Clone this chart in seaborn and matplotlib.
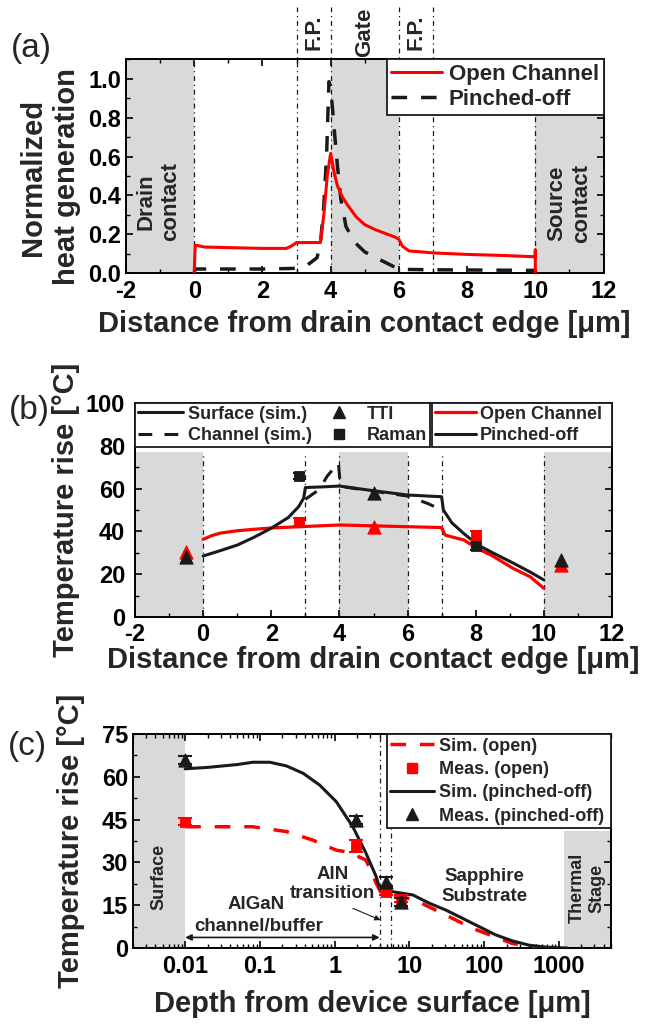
import matplotlib
matplotlib.use("Agg")
import matplotlib.pyplot as plt
import seaborn as sns
from matplotlib.lines import Line2D
from matplotlib.ticker import MultipleLocator, FixedLocator, LogLocator, NullFormatter

# ---- (a) normalized heat generation along the channel
heat_open_x = [0, 0.03, 0.3, 1, 2, 2.7, 2.85, 3.0, 3.7, 3.8, 3.9, 4.0, 4.1, 4.2, 4.35,
               4.5, 4.75, 5.0, 5.3, 5.6, 5.9, 6.0, 6.1, 6.3, 7, 8, 9, 10, 10, 10]
heat_open_y = [0, 0.145, 0.135, 0.132, 0.128, 0.128, 0.14, 0.158, 0.158, 0.3, 0.5, 0.617,
               0.52, 0.45, 0.39, 0.35, 0.29, 0.25, 0.225, 0.205, 0.185, 0.175, 0.14, 0.115,
               0.105, 0.097, 0.092, 0.085, 0.12, 0.0]
heat_pinch_x = [0, 0.02, 1, 2, 2.9, 3.0, 3.3, 3.6, 3.7, 3.8, 3.88, 3.95, 4.0, 4.1, 4.2,
                4.3, 4.45, 4.7, 5.0, 5.5, 5.9, 6.1, 7, 8, 9, 10, 10]
heat_pinch_y = [0, 0.022, 0.022, 0.022, 0.025, 0.03, 0.04, 0.08, 0.15, 0.35, 0.6, 0.985,
                0.96, 0.75, 0.55, 0.38, 0.24, 0.16, 0.11, 0.065, 0.03, 0.02, 0.018, 0.017,
                0.016, 0.015, 0]

# ---- (b) temperature rise along the channel
surf_pinch_x = [0, 0.5, 1, 1.5, 2, 2.5, 2.8, 2.95, 3.0, 3.5, 4.0, 5.0, 6.0, 7.0, 7.05,
                7.3, 7.65, 8.05, 8.5, 9.1, 9.6, 10]
surf_pinch_y = [28.5, 31, 33.6, 37.3, 41.5, 46.5, 51.5, 55.5, 60.5, 60.8, 61.2, 59, 57,
                56.2, 50, 44, 39, 33.8, 30, 25.2, 21, 17.3]
chan_pinch_x = [3.0, 3.4, 3.65, 3.97, 4.03, 5.0, 6.0, 6.6, 7.0]
chan_pinch_y = [55, 59.5, 66, 72, 61, 58.8, 56.5, 53, 50]
surf_open_x = [0, 0.25, 0.5, 1, 1.5, 2, 3, 4, 5, 6, 7, 7.1, 7.4, 7.65, 8.05, 8.5, 9.1,
               9.6, 10]
surf_open_y = [36.3, 38, 39.2, 40.3, 41, 41.6, 42.3, 43, 42.6, 42.2, 41.8, 38.3, 37, 36,
               32, 28.5, 22.7, 18.8, 13.4]
tti_x = [-0.5, 5, 10.5]
tti_open = [30.5, 42.2, 24.5]
tti_pinch = [28, 57.8, 26.8]
raman_x = [2.8, 8]
raman_open = [44.3, 38.2]
raman_open_err = [2, 2]
raman_pinch = [66, 33]
raman_pinch_err = [1.5, 1.5]

# ---- (c) temperature rise vs depth
depth_pinch_x = [0.01, 0.02, 0.05, 0.08, 0.136, 0.227, 0.38, 0.63, 1.05, 1.75, 2.63, 3.6,
                 4.0, 4.5, 5.7, 11.1, 18.5, 30.8, 51.4, 85.8, 143, 239, 398, 663, 1000, 1300]
depth_pinch_y = [62.8, 63.3, 64.3, 65.1, 65.1, 63.8, 61.2, 57.1, 51.3, 42.5, 33.2, 25,
                 21, 20.3, 19.8, 18.6, 15.7, 13.3, 10.4, 7.5, 4.6, 2.5, 1, 0.3, 0.1, 0]
depth_open_x = [0.01, 0.08, 0.227, 0.5, 1.05, 1.58, 2.63, 3.6, 4.2, 6.6, 11.1, 25, 70,
                239, 500, 1000]
depth_open_y = [42.5, 42.5, 40.8, 37.9, 34.3, 33.5, 30.8, 22.7, 19.2, 18, 17.2, 12.7, 6.9,
                1.6, 0.3, 0]
meas_depth = [0.01, 1.95, 4.9, 7.8]
meas_open = [44.3, 35.7, 19.8, 17.3]
meas_open_err = [1.3, 2, 1.2, 1.2]
meas_pinch = [65.9, 44.9, 23.2, 16.2]
meas_pinch_err = [1.5, 1.4, 1.6, 1.4]

RED = "#ff0000"
GRAY = "#d9d9d9"
DASHDOT = (0, (4, 3, 1, 3))
LONGDASH = (0, (4.5, 4))

sns.set_theme(style="ticks")
plt.rcParams["font.family"] = ["Liberation Sans", "DejaVu Sans"]
plt.rcParams.update({
    "font.weight": "bold",
    "axes.labelweight": "bold",
    "axes.unicode_minus": False,
    "axes.linewidth": 1.4,
    "axes.edgecolor": "black",
    "xtick.direction": "in", "ytick.direction": "in",
    "xtick.top": True, "ytick.right": True,
    "xtick.major.size": 5, "ytick.major.size": 5,
    "xtick.minor.size": 3, "ytick.minor.size": 3,
    "xtick.major.width": 1.2, "ytick.major.width": 1.2,
    "xtick.minor.width": 1.0, "ytick.minor.width": 1.0,
    "xtick.labelsize": 17, "ytick.labelsize": 17,
    "xtick.color": "black", "ytick.color": "black",
    "axes.labelsize": 21,
})

fig = plt.figure(figsize=(6.47, 10.26), dpi=100)
W, H = 647, 1026


def px_axes(left, right, top, bottom):
    return fig.add_axes([left / W, 1 - bottom / H, (right - left) / W, (bottom - top) / H])


ax_a = px_axes(126, 603.5, 59.3, 273.3)
ax_b = px_axes(135, 612, 403, 617)
ax_c = px_axes(133, 611, 734, 948)


def vlines(ax, xs, ymax=1.0, clip=True):
    for xv in xs:
        ax.axvline(xv, ymin=0, ymax=ymax, color="k", lw=0.9, ls=DASHDOT, zorder=1,
                   clip_on=clip)


def legend_frame(leg):
    fr = leg.get_frame()
    fr.set_linewidth(1.3)
    fr.set_edgecolor("k")
    fr.set_facecolor("white")
    fr.set_alpha(1)


# ================= (a)
ax = ax_a
for lo, hi in [(-2, 0), (4, 6), (10, 12)]:
    ax.axvspan(lo, hi, color=GRAY, lw=0, zorder=0)
vlines(ax, [0, 10])
vlines(ax, [3, 4, 6, 7], ymax=1.245, clip=False)
sns.lineplot(x=heat_pinch_x, y=heat_pinch_y, color="k", lw=2.5, linestyle=LONGDASH,
             sort=False, estimator=None, ax=ax, zorder=3)
sns.lineplot(x=heat_open_x, y=heat_open_y, color=RED, lw=2.2, sort=False, estimator=None,
             ax=ax, zorder=4)
ax.set_xlim(-2, 12)
ax.set_ylim(0, 1.1)
ax.xaxis.set_major_locator(MultipleLocator(2))
ax.xaxis.set_minor_locator(MultipleLocator(1))
ax.yaxis.set_major_locator(FixedLocator([0, 0.2, 0.4, 0.6, 0.8, 1.0]))
ax.yaxis.set_minor_locator(MultipleLocator(0.1))
ax.set_yticklabels(["0.0", "0.2", "0.4", "0.6", "0.8", "1.0"])
ax.tick_params(axis="x", pad=5)
ax.set_xlabel("Distance from drain contact edge [\u03bcm]")
ax.set_ylabel("Normalized\nheat generation", linespacing=1.25)
ax.xaxis.set_label_coords(0.5, -0.17)
ax.yaxis.set_label_coords(-0.095, 0.45)
for xt, lbl in [(3.5, "F.P."), (5, "Gate"), (6.5, "F.P.")]:
    ax.text(xt, 1.128, lbl, transform=ax.get_xaxis_transform(), rotation=90, ha="center",
            va="center", fontsize=16)
ax.text(-1.05, 0.37, "Drain\ncontact", rotation=90, ha="center", va="center", fontsize=16)
ax.text(11, 0.36, "Source\ncontact", rotation=90, ha="center", va="center", fontsize=16)
h_a = [Line2D([], [], color=RED, lw=2.2, label="Open Channel"),
       Line2D([], [], color="k", lw=2.5, ls=LONGDASH, label="Pinched-off")]
leg = ax.legend(handles=h_a, loc="upper left", bbox_to_anchor=(0.546, 0, 0.454, 1.0),
                mode="expand", borderaxespad=0, fancybox=False, fontsize=16,
                handlelength=2.3, handletextpad=0.3, borderpad=0.2, labelspacing=0.2)
legend_frame(leg)
leg.set_zorder(10)

# ================= (b)
ax = ax_b
top_b = 0.771
for lo, hi in [(-2, 0), (4, 6), (10, 12)]:
    ax.axvspan(lo, hi, ymax=top_b, color=GRAY, lw=0, zorder=0)
vlines(ax, [0, 3, 4, 6, 7, 10], ymax=top_b)
sns.lineplot(x=surf_open_x, y=surf_open_y, color=RED, lw=2.3, sort=False, estimator=None,
             ax=ax, zorder=3)
sns.lineplot(x=surf_pinch_x, y=surf_pinch_y, color="k", lw=2.2, sort=False, estimator=None,
             ax=ax, zorder=4)
sns.lineplot(x=chan_pinch_x, y=chan_pinch_y, color="k", lw=2.2, linestyle=LONGDASH,
             sort=False, estimator=None, ax=ax, zorder=4)
ax.errorbar(raman_x, raman_open, yerr=raman_open_err, fmt="none", ecolor=RED, elinewidth=1.5,
            capsize=4, capthick=1.5, zorder=5)
ax.errorbar(raman_x, raman_pinch, yerr=raman_pinch_err, fmt="none", ecolor="k",
            elinewidth=1.5, capsize=4, capthick=1.5, zorder=6)
sns.scatterplot(x=tti_x, y=tti_open, marker="^", s=90, color=RED, edgecolor=RED, ax=ax,
                zorder=5)
sns.scatterplot(x=raman_x, y=raman_open, marker="s", s=55, color=RED, edgecolor=RED, ax=ax,
                zorder=5)
sns.scatterplot(x=tti_x, y=tti_pinch, marker="^", s=90, color="k", edgecolor="k", ax=ax,
                zorder=6)
sns.scatterplot(x=raman_x, y=raman_pinch, marker="s", s=55, color="k", edgecolor="k", ax=ax,
                zorder=6)
ax.set_xlim(-2, 12)
ax.set_ylim(0, 100)
ax.xaxis.set_major_locator(MultipleLocator(2))
ax.xaxis.set_minor_locator(MultipleLocator(1))
ax.yaxis.set_major_locator(MultipleLocator(20))
ax.yaxis.set_minor_locator(MultipleLocator(10))
ax.tick_params(axis="x", pad=4)
ax.tick_params(axis="y", pad=7)
ax.set_xlabel("Distance from drain contact edge [\u03bcm]")
ax.set_ylabel("Temperature rise [\u00b0C]")
ax.xaxis.set_label_coords(0.5, -0.135)
ax.yaxis.set_label_coords(-0.115, 0.5)
h_b1 = [Line2D([], [], color="k", lw=2.2, label="Surface (sim.)"),
        Line2D([], [], color="k", lw=2.2, ls=LONGDASH, label="Channel (sim.)"),
        Line2D([], [], color="k", marker="^", ls="none", ms=9, label="TTI"),
        Line2D([], [], color="k", marker="s", ls="none", ms=7, label="Raman")]
leg1 = ax.legend(handles=h_b1, ncol=2, loc="upper left", bbox_to_anchor=(0, 0, 0.618, 1.0),
                 mode="expand", borderaxespad=0, fancybox=False, fontsize=13,
                 handlelength=2.5, handletextpad=0.3, borderpad=0.15, labelspacing=0.25,
                 columnspacing=0.6)
legend_frame(leg1)
ax.add_artist(leg1)
h_b2 = [Line2D([], [], color=RED, lw=2.3, label="Open Channel"),
        Line2D([], [], color="k", lw=2.2, label="Pinched-off")]
leg2 = ax.legend(handles=h_b2, loc="upper left", bbox_to_anchor=(0.623, 0, 0.377, 1.0),
                 mode="expand", borderaxespad=0, fancybox=False, fontsize=13,
                 handlelength=2.3, handletextpad=0.2, borderpad=0.15, labelspacing=0.25)
legend_frame(leg2)

# ================= (c)
ax = ax_c
ax.set_xscale("log")
ax.axvspan(0.002, 0.01, color=GRAY, lw=0, zorder=0)
ax.axvspan(1170, 5000, ymax=0.547, color=GRAY, lw=0, zorder=0)
vlines(ax, [4.0, 5.7])
sns.lineplot(x=depth_open_x, y=depth_open_y, color=RED, lw=2.5, linestyle=LONGDASH,
             sort=False, estimator=None, ax=ax, zorder=3)
sns.lineplot(x=depth_pinch_x, y=depth_pinch_y, color="k", lw=2.2, sort=False,
             estimator=None, ax=ax, zorder=4)
ax.errorbar(meas_depth, meas_open, yerr=meas_open_err, fmt="none", ecolor=RED,
            elinewidth=1.5, capsize=5, capthick=1.5, zorder=5)
ax.errorbar(meas_depth, meas_pinch, yerr=meas_pinch_err, fmt="none", ecolor="k",
            elinewidth=1.5, capsize=5, capthick=1.5, zorder=6)
sns.scatterplot(x=meas_depth, y=meas_open, marker="s", s=55, color=RED, edgecolor=RED,
                ax=ax, zorder=5)
sns.scatterplot(x=meas_depth, y=meas_pinch, marker="^", s=90, color="k", edgecolor="k",
                ax=ax, zorder=6)
ax.set_xlim(0.002, 5000)
ax.set_ylim(0, 75)
ax.xaxis.set_major_locator(FixedLocator([0.01, 0.1, 1, 10, 100, 1000]))
ax.set_xticklabels(["0.01", "0.1", "1", "10", "100", "1000"])
ax.xaxis.set_minor_locator(LogLocator(base=10, subs=range(2, 10), numticks=20))
ax.xaxis.set_minor_formatter(NullFormatter())
ax.yaxis.set_major_locator(MultipleLocator(15))
ax.yaxis.set_minor_locator(MultipleLocator(7.5))
ax.tick_params(axis="x", pad=5)
ax.set_xlabel("Depth from device surface [\u03bcm]")
ax.set_ylabel("Temperature rise [\u00b0C]")
ax.xaxis.set_label_coords(0.5, -0.195)
ax.yaxis.set_label_coords(-0.1, 0.5)
ax.text(0.0045, 25, "Surface", rotation=90, ha="center", va="center", fontsize=13)
ax.text(2420, 21, "Thermal\nStage", rotation=90, ha="center", va="center", fontsize=13)
ax.text(100, 21.5, "Sapphire\nSubstrate", ha="center", va="center", fontsize=13.5)
ax.text(0.93, 22.4, "AlN\ntransition", ha="center", va="center", fontsize=13.5)
ax.text(0.09, 15.4, "AlGaN", ha="center", va="center", fontsize=13.5)
ax.text(0.095, 7.5, "channel/buffer", ha="center", va="center", fontsize=13.5)
ax.annotate("", xy=(0.01, 3.7), xytext=(4.0, 3.7),
            arrowprops=dict(arrowstyle="<|-|>", lw=1.2, color="k", mutation_scale=9,
                            shrinkA=0, shrinkB=0))
ax.annotate("", xy=(4.1, 9.8), xytext=(1.75, 13.9),
            arrowprops=dict(arrowstyle="-|>", lw=0.8, color="k", mutation_scale=8,
                            shrinkA=0, shrinkB=0))
h_c = [Line2D([], [], color=RED, lw=2.5, ls=LONGDASH, label="Sim. (open)"),
       Line2D([], [], color=RED, marker="s", ls="none", ms=7, label="Meas. (open)"),
       Line2D([], [], color="k", lw=2.2, label="Sim. (pinched-off)"),
       Line2D([], [], color="k", marker="^", ls="none", ms=9, label="Meas. (pinched-off)")]
leg = ax.legend(handles=h_c, loc="upper left", bbox_to_anchor=(0.531, 0, 0.469, 1.0),
                mode="expand", borderaxespad=0, fancybox=False, fontsize=13,
                handlelength=2.4, handletextpad=0.3, borderpad=0.2, labelspacing=0.35)
legend_frame(leg)

# panel letters
for lbl, (xp, yp) in {"(a)": (31, 48), "(b)": (29, 410), "(c)": (27, 746)}.items():
    fig.text(xp / W, 1 - yp / H, lbl, ha="center", va="center", fontsize=24,
             fontweight="normal")

fig.savefig("out.png", dpi=100)
